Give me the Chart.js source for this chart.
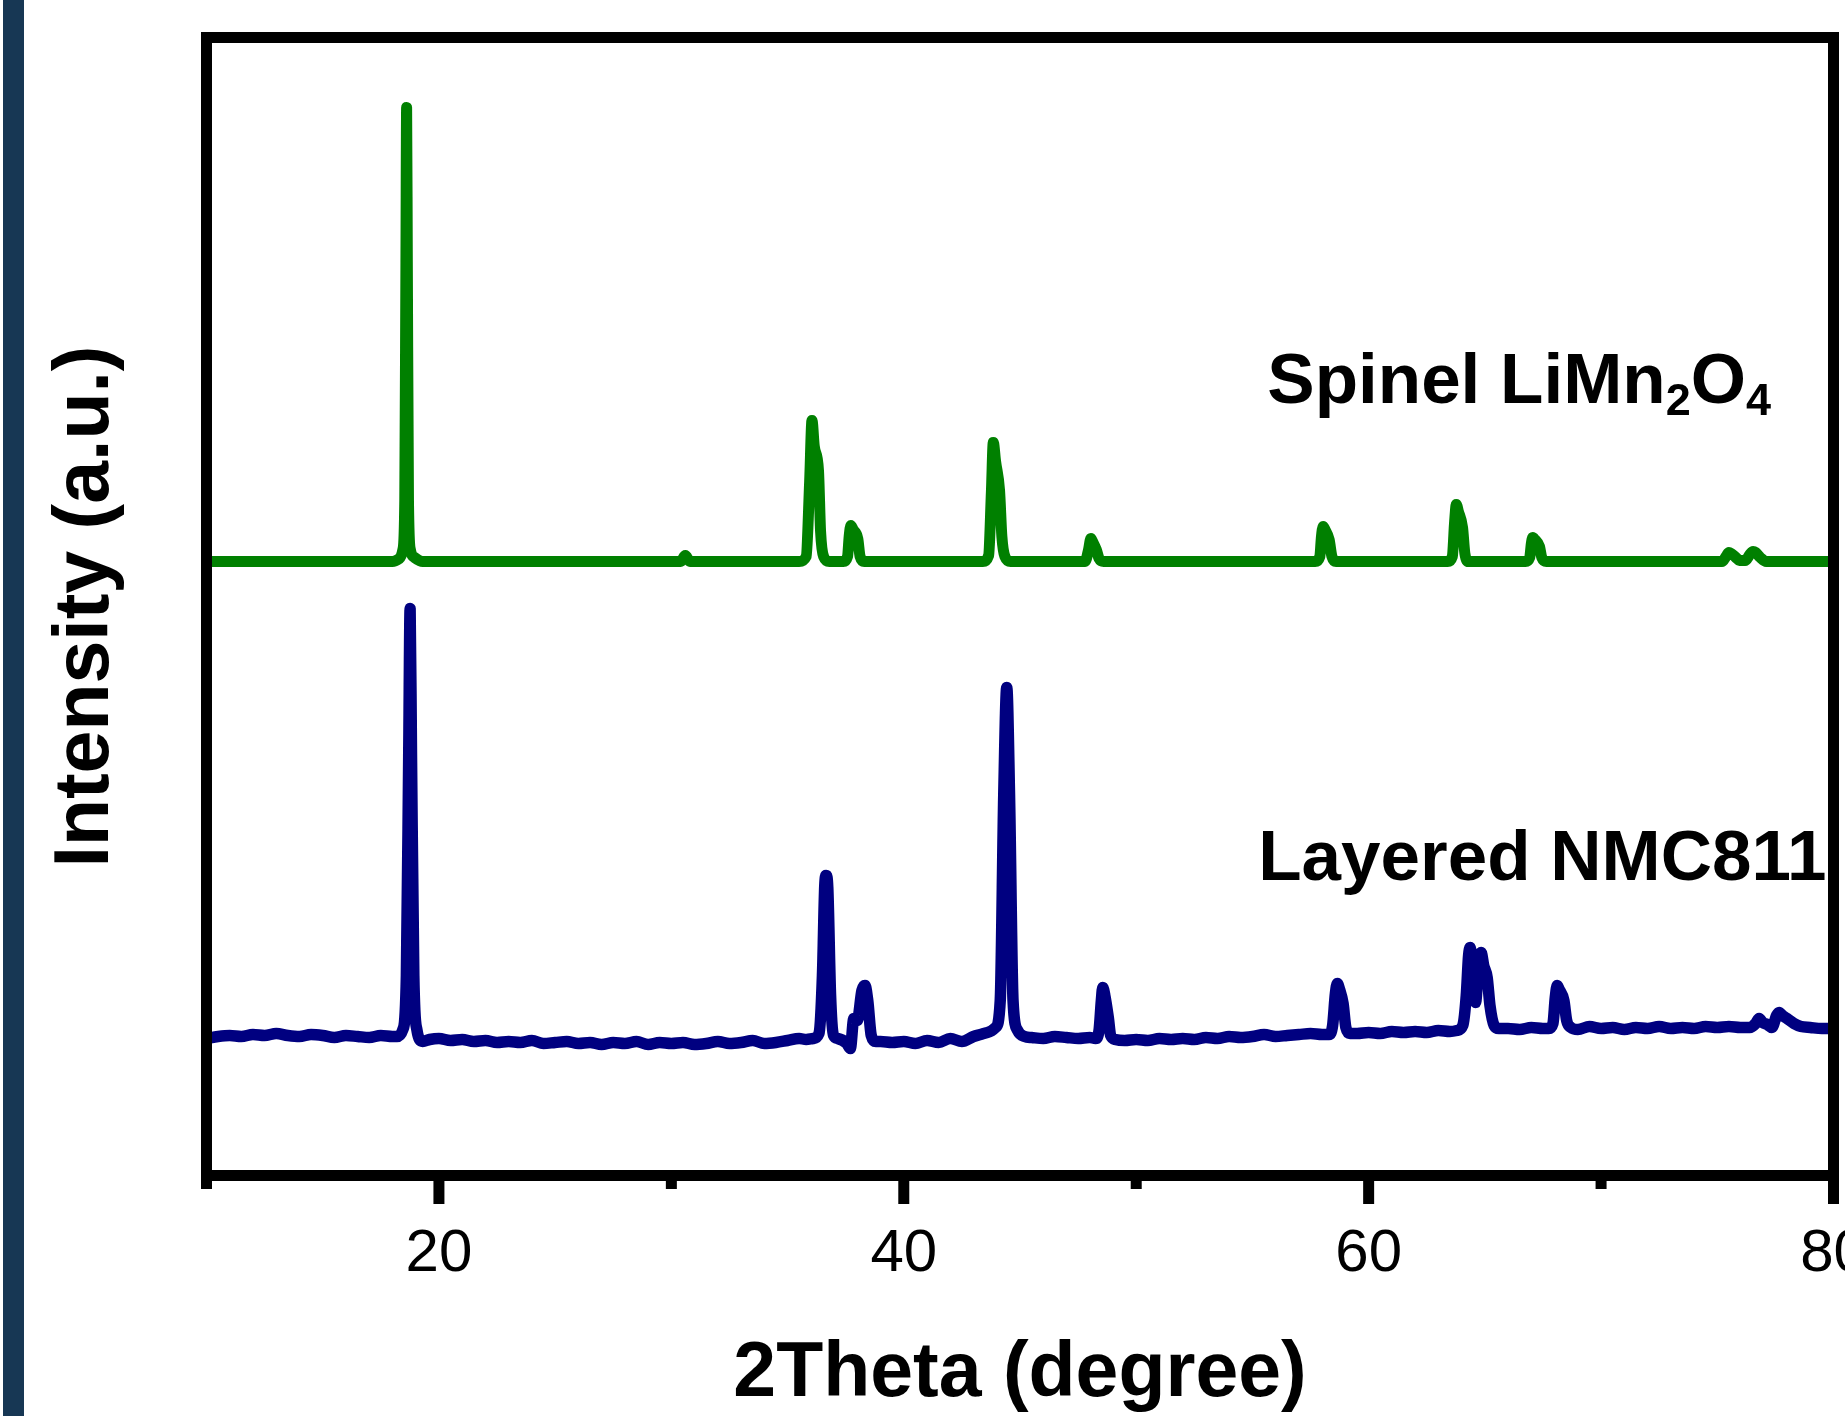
<!DOCTYPE html>
<html>
<head>
<meta charset="utf-8">
<title>XRD patterns</title>
<script src="https://cdn.jsdelivr.net/npm/chart.js@4.4.1/dist/chart.umd.min.js"></script>
<style>
  html, body { margin: 0; padding: 0; background: #fff; }
  canvas { display: block; }
</style>
</head>
<body>
<canvas id="xrdChart" width="1845" height="1416"></canvas>
<script>
// 2theta positions and intensities (a.u.)
const spinelTheta = [
  10, 13, 16, 18.0, 18.3, 18.45, 18.53, 18.58, 18.61, 18.64, 18.69, 18.77, 18.95, 19.3,
  24, 30.4, 30.6, 30.8,
  35.5, 35.8, 35.95, 36.05, 36.15, 36.33, 36.42, 36.55, 36.8,
  37.4, 37.58, 37.65, 37.72, 37.82, 38.02, 38.12, 38.3,
  41, 43.4, 43.65, 43.77, 43.85, 43.95, 44.12, 44.22, 44.35, 44.6,
  47.8, 47.95, 48.05, 48.12, 48.28, 48.4, 48.6,
  53, 57.7, 57.9, 57.97, 58.04, 58.12, 58.3, 58.42, 58.6,
  63.4, 63.6, 63.7, 63.77, 63.86, 64.04, 64.14, 64.3,
  66.75, 66.93, 67.0, 67.06, 67.15, 67.35, 67.45, 67.65,
  72, 75.2, 75.4, 75.5, 75.6, 75.8, 75.95, 76.2, 76.4, 76.54, 76.65, 76.85, 77.1,
  80
];
const spinelCounts = [
  0, 0, 0, 0, 3, 12, 60, 300, 454, 300, 60, 12, 4, 0,
  0, 0, 6, 0,
  0, 5, 80, 141, 115, 91, 30, 5, 0,
  0, 5, 25, 36, 32, 23, 5, 0,
  0, 0, 6, 70, 119, 100, 71, 25, 5, 0,
  0, 12, 23, 20, 12, 3, 0,
  0, 0, 5, 25, 35, 32, 22, 5, 0,
  0, 5, 40, 57, 50, 34, 8, 0,
  0, 4, 18, 24, 22, 15, 4, 0,
  0, 0, 6, 9, 8, 4, 1, 1, 7, 10, 9, 4, 0,
  0
];

const nmcTheta = [
  10, 10.5, 11, 11.5, 12, 12.5, 13, 13.5, 14, 14.5, 15, 15.5, 16, 16.5, 17, 17.5, 18,
  18.2, 18.45, 18.6, 18.7, 18.76, 18.82, 18.92, 19.05, 19.3,
  19.6, 20, 20.5, 21, 21.5, 22, 22.5, 23, 23.5, 24, 24.5, 25, 25.5, 26, 26.5, 27, 27.5,
  28, 28.5, 29, 29.5, 30, 30.5, 31, 31.5, 32, 32.5, 33, 33.5, 34, 34.5, 35, 35.5, 35.8,
  36.1, 36.35, 36.5, 36.6, 36.66, 36.73, 36.85, 36.98, 37.15,
  37.55, 37.7, 37.85, 38.0, 38.2, 38.33, 38.45, 38.6, 38.8,
  39, 39.5, 40, 40.5, 41, 41.5, 42, 42.5, 43, 43.3,
  43.6, 43.95, 44.15, 44.3, 44.43, 44.55, 44.7, 44.9, 45.2,
  45.5, 46, 46.5, 47, 47.5, 48,
  48.25, 48.4, 48.5, 48.56, 48.65, 48.8, 48.9, 49.1,
  49.5, 50, 50.5, 51, 51.5, 52, 52.5, 53, 53.5, 54, 54.5, 55, 55.5, 56, 56.5, 57, 57.5, 58,
  58.3, 58.45, 58.57, 58.65, 58.75, 58.9, 59.02, 59.2,
  59.5, 60, 60.5, 61, 61.5, 62, 62.5, 63, 63.5,
  63.8, 64.05, 64.2, 64.3, 64.37, 64.45, 64.6, 64.72, 64.84, 64.95, 65.1, 65.22, 65.4, 65.6,
  66, 66.5, 67, 67.5,
  67.75, 67.93, 68.03, 68.11, 68.2, 68.4, 68.52, 68.7,
  69, 69.5, 70, 70.5, 71, 71.5, 72, 72.5, 73, 73.5, 74, 74.5, 75, 75.5, 76,
  76.4, 76.65, 76.8, 76.95, 77.15, 77.35, 77.55, 77.66, 77.8, 78.0, 78.3, 78.6,
  79, 79.5, 80
];
const nmcCounts = [
  137, 139, 140, 139, 141, 140, 142, 140, 139, 141, 140, 138, 140, 139, 138, 140, 139,
  139, 146, 200, 420, 567, 420, 200, 146, 134,
  136, 137, 135, 136, 134, 135, 133, 134, 133, 135, 132, 133, 134, 132, 133, 131, 133,
  132, 134, 131, 133, 132, 133, 131, 132, 134, 132, 133, 135, 132, 133, 135, 137, 136,
  137, 142, 200, 290, 300, 288, 180, 140, 137,
  132, 127, 157, 155, 185, 190, 175, 140, 134,
  134, 133, 134, 132, 135, 133, 137, 134, 139, 141,
  143, 148, 175, 380, 488, 380, 175, 145, 139,
  138, 137, 139, 138, 137, 138,
  137, 145, 175, 188, 180, 158, 140, 136,
  135, 136, 135, 137, 136, 137, 136, 138, 137, 139, 138, 139, 141, 139, 140, 141, 142, 141,
  141, 150, 182, 192, 186, 172, 148, 142,
  142, 143, 142, 144, 143, 144, 143, 145, 144,
  145, 150, 180, 220, 228, 215, 173, 210, 223, 210, 198, 170, 150, 147,
  147, 146, 148, 147,
  147, 152, 178, 190, 186, 175, 155, 148,
  146, 149, 147, 148, 146, 148, 147, 149, 147, 148, 147, 149, 148, 149, 148,
  148, 152, 157, 153, 151, 148, 160, 163, 160, 157, 152, 149,
  148, 147, 147
];

// vertical shift used to stack the spinel pattern above the NMC one
const spinelOffset = 614;

const xTicks = [10, 20, 30, 40, 50, 60, 70, 80];
const xLabels = [20, 40, 60, 80];

function toPoints(thetas, counts, offset) {
  return thetas.map((t, i) => ({ x: t, y: counts[i] + offset }));
}

const framePlugin = {
  id: "frame",
  beforeDraw(chart) {
    const c = chart.ctx;
    c.save();
    c.fillStyle = "#ffffff";
    c.fillRect(0, 0, chart.width, chart.height);
    c.fillStyle = "#173754";
    c.fillRect(3, 0, 21, chart.height);
    c.restore();
  },
  afterDatasetsDraw(chart) {
    const c = chart.ctx;
    const a = chart.chartArea;
    const x = chart.scales.x;
    c.save();
    c.strokeStyle = "#000";
    c.lineWidth = 11;
    c.lineJoin = "miter";
    c.strokeRect(a.left, a.top, a.right - a.left, a.bottom - a.top);
    c.lineCap = "butt";
    xTicks.forEach((v) => {
      const px = x.getPixelForValue(v);
      const len = xLabels.includes(v) ? 28.5 : 13.5;
      c.beginPath();
      c.moveTo(px, a.bottom);
      c.lineTo(px, a.bottom + len);
      c.stroke();
    });
    c.restore();
  },
  afterDraw(chart) {
    const c = chart.ctx;
    const x = chart.scales.x;
    const y = chart.scales.y;
    c.save();
    c.fillStyle = "#000";
    c.textBaseline = "alphabetic";

    // Spinel LiMn2O4
    let px = x.getPixelForValue(55.64);
    const py = y.getPixelForValue(772.5);
    const big = "bold 71px 'Liberation Sans', Arial, sans-serif";
    const small = "bold 45px 'Liberation Sans', Arial, sans-serif";
    const parts = [["Spinel LiMn", big, 0], ["2", small, 12], ["O", big, 0], ["4", small, 12]];
    parts.forEach(([txt, font, dy]) => {
      c.font = font;
      c.fillText(txt, px, py + dy);
      px += c.measureText(txt).width;
    });

    c.font = big;
    c.fillText("Layered NMC811", x.getPixelForValue(55.25), y.getPixelForValue(295.5));
    c.restore();
  }
};

document.addEventListener("DOMContentLoaded", () => {
  const ctx = document.getElementById("xrdChart");

  new Chart(ctx, {
    type: "line",
    data: {
      datasets: [
        {
          label: "Spinel LiMn2O4",
          data: toPoints(spinelTheta, spinelCounts, spinelOffset),
          borderColor: "#008000",
          borderWidth: 11,
          borderCapStyle: "round",
          borderJoinStyle: "round",
          cubicInterpolationMode: "monotone",
          pointRadius: 0
        },
        {
          label: "Layered NMC811",
          data: toPoints(nmcTheta, nmcCounts, 0),
          borderColor: "#000080",
          borderWidth: 11.5,
          borderCapStyle: "round",
          borderJoinStyle: "round",
          cubicInterpolationMode: "monotone",
          pointRadius: 0
        }
      ]
    },
    options: {
      responsive: false,
      animation: false,
      devicePixelRatio: 1,
      layout: { padding: { left: 0, top: 37.5, right: 11.5, bottom: 0 } },
      plugins: {
        legend: { display: false },
        tooltip: { enabled: false }
      },
      scales: {
        x: {
          type: "linear",
          min: 10,
          max: 80,
          grid: { display: false, drawTicks: false },
          border: { display: false },
          ticks: {
            stepSize: 10,
            autoSkip: false,
            maxRotation: 0,
            padding: 43,
            color: "#000",
            font: { family: "'Liberation Sans', Arial, sans-serif", size: 60 },
            callback: (v) => (xLabels.includes(v) ? String(v) : "")
          },
          title: {
            display: true,
            text: "2Theta (degree)",
            color: "#000",
            font: { family: "'Liberation Sans', Arial, sans-serif", size: 77, weight: "bold" },
            padding: { top: 0, bottom: -4.5 }
          },
          afterFit: (scale) => {
            scale.height = 240.5;
            scale.paddingLeft = 0;
            scale.paddingRight = 0;
          }
        },
        y: {
          min: 0,
          max: 1138,
          grid: { display: false, drawTicks: false },
          border: { display: false },
          ticks: { display: false },
          title: {
            display: true,
            text: "Intensity (a.u.)",
            color: "#000",
            font: { family: "'Liberation Sans', Arial, sans-serif", size: 77, weight: "bold" },
            padding: { top: 41, bottom: 0 }
          },
          afterFit: (scale) => {
            scale.width = 206.5;
            scale.paddingTop = 0;
            scale.paddingBottom = 0;
          }
        }
      }
    },
    plugins: [framePlugin]
  });
});
</script>
</body>
</html>
